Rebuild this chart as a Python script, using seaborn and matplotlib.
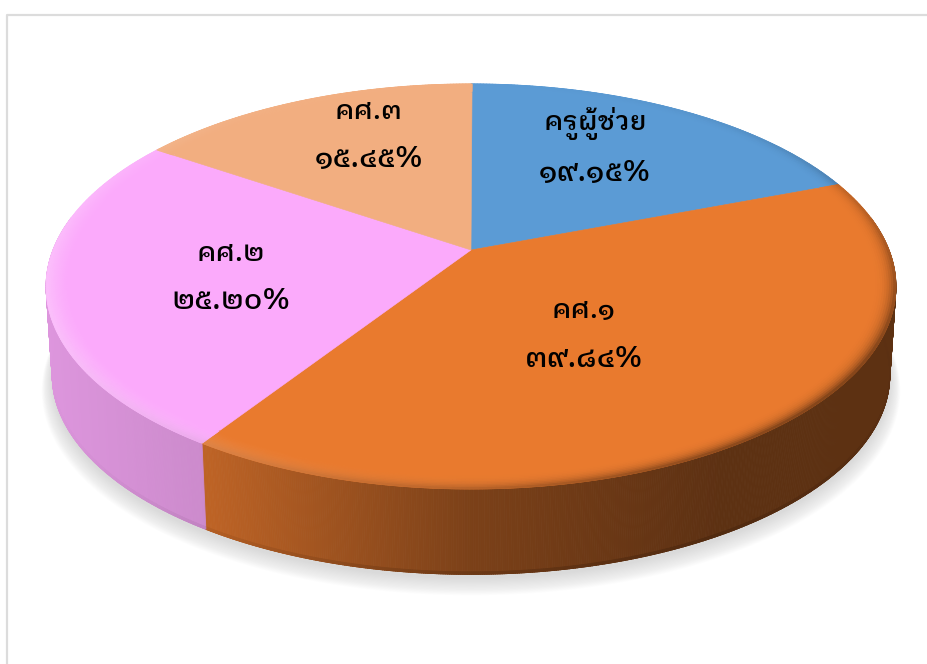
import matplotlib
matplotlib.use("Agg")
import numpy as np
import matplotlib.pyplot as plt
from matplotlib.collections import PolyCollection
import seaborn as sns

categories = ["ครูผู้ช่วย", "คศ.๑", "คศ.๒", "คศ.๓"]
shares = [19.15, 39.84, 25.20, 15.45]
share_labels = ["๑๙.๑๕%", "๓๙.๘๔%", "๒๕.๒๐%", "๑๕.๔๕%"]
colors = ["#5B9BD5", "#E97A2E", "#FBAAFB", "#F2AE80"]

sns.set_theme(style="white")
THAI = ["IBM Plex Sans Thai Looped", "Noto Sans Thai Looped", "DejaVu Sans"]
plt.rcParams["font.family"] = THAI

palette = np.array(sns.color_palette(colors))
fig = plt.figure(figsize=(9.28, 6.64), dpi=100, facecolor="white")
ax = fig.add_axes([0, 0, 1, 1])
ax.set_xlim(0, 928)
ax.set_ylim(664, 0)
ax.axis("off")

CX, K = 471.0, 0.18
def project(r, t, y0=250.0, a=196.0, b=418.0):
    """Perspective view of polar point (r, clockwise degrees from north)."""
    th = np.radians(t)
    u, v = r * np.sin(th), r * np.cos(th)
    w = 1 + K * v
    return np.column_stack([CX + b * u / w, y0 - a * v / w])

def project_base(r, t):
    return project(r, t, y0=339.0, a=193.0, b=412.0)

def gauss(t, c, s):
    return np.exp(-0.5 * ((t - c) / s) ** 2)

edges = np.concatenate([[0], np.cumsum(shares)]) / np.sum(shares) * 360.0

def add_polys(polys, cols, z):
    ax.add_collection(PolyCollection(polys, facecolors=cols, edgecolors=cols,
                                     linewidths=0.6, zorder=z))

# soft shadow
ring = np.linspace(0, 360, 361)
for d in np.linspace(1, 0, 16):
    pts = project_base(1 + 0.024 * d, ring) + np.array([0, 4 + 10 * d])
    ax.fill(pts[:, 0], pts[:, 1], color="#8c8c8c", alpha=0.019, lw=0, zorder=1)

# side wall, shaded by screen position
wall_x = [46, 210, 470, 720, 895]
wall_f = [0.88, 0.81, 0.53, 0.40, 0.40]
polys, cols, lip, lip_cols = [], [], [], []
for i in range(len(shares)):
    ts = np.arange(edges[i], edges[i + 1] + 0.25, 0.25)
    ts = ts[(ts > 80) & (ts < 280)]
    for t0, t1 in zip(ts[:-1], ts[1:]):
        top = project(1, np.array([t0, t1]))
        bot = project_base(1, np.array([t1, t0]))
        f = np.interp(top[:, 0].mean(), wall_x, wall_f)
        polys.append(np.vstack([top, bot]))
        cols.append(palette[i] * f)
        lip.append(np.vstack([bot, project_base(1, np.array([t0, t1])) + [0, -2.5]]))
        lip_cols.append(palette[i] * f * (1 - 0.14 * gauss(t0, 165, 35)))
add_polys(polys, cols, 2)
add_polys(lip, lip_cols, 2.5)

# top face
for i in range(len(shares)):
    ts = np.arange(edges[i], edges[i + 1] + 0.25, 0.25)
    arc = project(1, ts)
    pts = np.vstack([project(0, np.array([0.0])), arc])
    ax.fill(pts[:, 0], pts[:, 1], color=palette[i], lw=0.4, zorder=3)

# bevelled rim
levels = np.linspace(0.945, 1.0, 12)
polys, cols = [], []
for i in range(len(shares)):
    ts = np.arange(edges[i], edges[i + 1] + 0.5, 0.5)
    for t0, t1 in zip(ts[:-1], ts[1:]):
        tm = 0.5 * (t0 + t1)
        lit = 0.28 * gauss(tm, 250, 35)
        drk = 0.85 * gauss(tm, 130, 42)
        for r0, r1 in zip(levels[:-1], levels[1:]):
            p = (0.5 * (r0 + r1) - levels[0]) / (levels[-1] - levels[0])
            c = palette[i] + (1 - palette[i]) * lit * p ** 1.5
            c = c + (palette[i] * 0.42 - c) * drk * p ** 3
            polys.append(np.vstack([project(r0, np.array([t0, t1])),
                                    project(r1, np.array([t1, t0]))]))
            cols.append(np.clip(c, 0, 1))
add_polys(polys, cols, 4)

# frame of the picture
ax.plot([7.5, 7.5, 928], [664, 14.5, 14.5], color="#dcdcdc", lw=1.6, zorder=0)

# labels
name_xy = [(595, 124), (584, 311), (231, 254), (369, 112)]
share_xy = [(595, 173), (584, 359), (231, 301), (369, 159)]
for i in range(len(shares)):
    ax.text(*name_xy[i], categories[i], ha="center", va="center", fontsize=19.5,
            color="black", weight="medium", zorder=6)
    ax.text(*share_xy[i], share_labels[i], ha="center", va="center", fontsize=21,
            color="black", weight="medium", zorder=6)

fig.savefig("out.png", dpi=100, facecolor="white")
